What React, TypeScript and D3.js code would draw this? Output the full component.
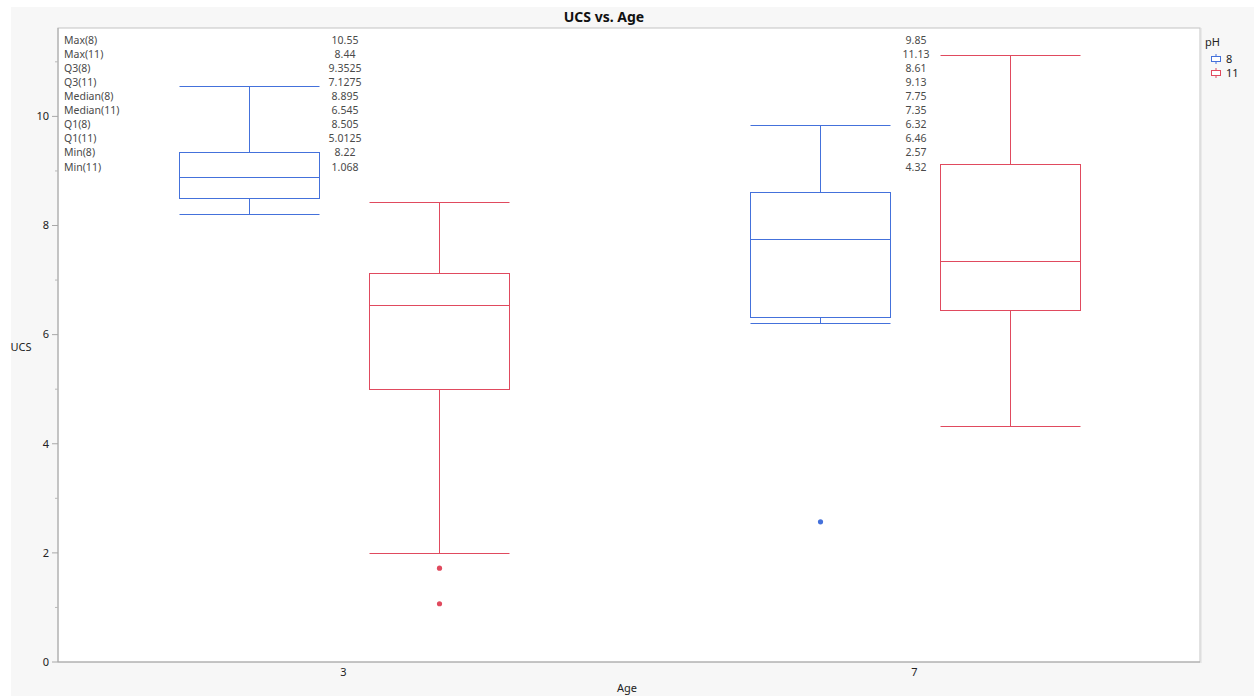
import React from "react";
import * as d3 from "d3";

// Box-plot summaries, indexed [age][pH]
const ages = ["3", "7"];
const phLevels = ["8", "11"];
const maxes = [[10.55, 8.44], [9.85, 11.13]];
const q3s = [[9.3525, 7.1275], [8.61, 9.13]];
const medians = [[8.895, 6.545], [7.75, 7.35]];
const q1s = [[8.505, 5.0125], [6.32, 6.46]];
const mins = [[8.22, 1.068], [2.57, 4.32]];
// lowest point inside the whisker reach
const lowerWhiskers = [[8.22, 1.99], [6.22, 4.32]];
const outliers = [[[], [1.72, 1.068]], [[2.57], []]];
const yTicks = [0, 2, 4, 6, 8, 10];
const yMinorTicks = [1, 3, 5, 7, 9, 11];

const W = 1254;
const H = 696;
const plot = { left: 58, top: 28, right: 1200, bottom: 662 };
const colors: Record<string, string> = { "8": "#4471DB", "11": "#E04A5E" };
const FONT = "'Noto Sans', sans-serif";

export default function App() {
  const x = d3.scaleBand<string>().domain(ages).range([plot.left, plot.right]).padding(0);
  const sub = d3.scalePoint<string>().domain(phLevels).range([-95, 95]);
  const y = d3.scaleLinear().domain([0, 11.62]).range([plot.bottom, plot.top]);
  const boxW = 140;

  const statRows: { label: string; values: number[][] }[] = [];
  const statDefs: [string, number[][]][] = [
    ["Max", maxes],
    ["Q3", q3s],
    ["Median", medians],
    ["Q1", q1s],
    ["Min", mins],
  ];
  statDefs.forEach(([name, arr]) => {
    phLevels.forEach((ph, j) => {
      statRows.push({ label: `${name}(${ph})`, values: ages.map((_, i) => [arr[i][j]]) });
    });
  });
  const rowY0 = 40;
  const rowStep = 14.1;

  return (
    <svg width={W} height={H} style={{ position: "absolute", left: 0, top: 0, display: "block" }}>
      <rect x={0} y={0} width={W} height={H} fill="#ffffff" />
      <rect x={11} y={7} width={W - 11} height={H - 7} fill="#f7f7f7" />
      <text x={604} y={22} textAnchor="middle" fontFamily={FONT} fontWeight="bold" fontSize={14} fill="#111">
        UCS vs. Age
      </text>

      {/* plot frame */}
      <rect
        x={plot.left}
        y={plot.top}
        width={plot.right - plot.left}
        height={plot.bottom - plot.top}
        fill="#ffffff"
        stroke="#c4c4c4"
        strokeWidth={1}
      />
      <line x1={plot.right + 1} x2={plot.right + 1} y1={plot.top} y2={plot.bottom + 1} stroke="#dedede" />
      <line x1={plot.left} x2={plot.left} y1={plot.top} y2={plot.bottom} stroke="#a8a8a8" />
      <line x1={plot.left} x2={plot.right} y1={plot.bottom} y2={plot.bottom} stroke="#a8a8a8" />

      {/* y axis */}
      {yTicks.map((t) => (
        <g key={`yt${t}`}>
          <line x1={plot.left - 6} x2={plot.left} y1={y(t)} y2={y(t)} stroke="#a8a8a8" />
          <text x={plot.left - 9} y={y(t)} dy="0.35em" textAnchor="end" fontFamily={FONT} fontSize={11} fill="#222">
            {t}
          </text>
        </g>
      ))}
      {yMinorTicks.map((t) => (
        <line key={`ym${t}`} x1={plot.left - 3} x2={plot.left} y1={y(t)} y2={y(t)} stroke="#b8b8b8" />
      ))}
      <text x={21} y={347} dy="0.35em" textAnchor="middle" fontFamily={FONT} fontSize={11} fill="#222">
        UCS
      </text>

      {/* x axis */}
      {ages.map((a) => (
        <text
          key={`xt${a}`}
          x={(x(a) ?? 0) + x.bandwidth() / 2}
          y={672}
          dy="0.35em"
          textAnchor="middle"
          fontFamily={FONT}
          fontSize={11}
          fill="#222"
        >
          {a}
        </text>
      ))}
      <text x={627} y={688} dy="0.35em" textAnchor="middle" fontFamily={FONT} fontSize={11} fill="#222">
        Age
      </text>

      {/* boxes */}
      {ages.map((a, i) =>
        phLevels.map((ph, j) => {
          const cx = Math.round((x(a) ?? 0) + x.bandwidth() / 2 + (sub(ph) ?? 0)) + 0.5;
          const c = colors[ph];
          const x0 = cx - boxW / 2;
          const x1 = cx + boxW / 2;
          const r = (v: number) => Math.round(y(v)) + 0.5;
          return (
            <g key={`b${a}-${ph}`} stroke={c} strokeWidth={1} fill="none">
              <line x1={x0} x2={x1} y1={r(maxes[i][j])} y2={r(maxes[i][j])} />
              <line x1={cx} x2={cx} y1={r(maxes[i][j])} y2={r(q3s[i][j])} />
              <rect x={x0} y={r(q3s[i][j])} width={boxW} height={r(q1s[i][j]) - r(q3s[i][j])} />
              <line x1={x0} x2={x1} y1={r(medians[i][j])} y2={r(medians[i][j])} />
              <line x1={cx} x2={cx} y1={r(q1s[i][j])} y2={r(lowerWhiskers[i][j])} />
              <line x1={x0} x2={x1} y1={r(lowerWhiskers[i][j])} y2={r(lowerWhiskers[i][j])} />
              {outliers[i][j].map((o, k) => (
                <circle key={k} cx={cx} cy={y(o)} r={2.6} fill={c} stroke="none" />
              ))}
            </g>
          );
        })
      )}

      {/* summary statistics */}
      {statRows.map((row, k) => (
        <g key={`s${k}`} fontFamily={FONT} fontSize={10.5} fill="#4a4a4a">
          <text x={64} y={rowY0 + k * rowStep} dy="0.35em">
            {row.label}
          </text>
          {ages.map((a, i) => (
            <text
              key={a}
              x={(x(a) ?? 0) + x.bandwidth() / 2 + 1.5}
              y={rowY0 + k * rowStep}
              dy="0.35em"
              textAnchor="middle"
            >
              {String(row.values[i][0])}
            </text>
          ))}
        </g>
      ))}

      {/* legend */}
      <text x={1205} y={42} dy="0.35em" fontFamily={FONT} fontSize={11} fill="#222">
        pH
      </text>
      {phLevels.map((ph, j) => {
        const ly = 59 + j * 14;
        const c = colors[ph];
        return (
          <g key={`lg${ph}`}>
            <line x1={1216} x2={1216} y1={ly - 5} y2={ly + 5} stroke={c} />
            <rect x={1211.5} y={ly - 2.5} width={9} height={5} fill="#fff" stroke={c} />
            <text x={1226} y={ly} dy="0.35em" fontFamily={FONT} fontSize={11} fill="#222">
              {ph}
            </text>
          </g>
        );
      })}
    </svg>
  );
}
